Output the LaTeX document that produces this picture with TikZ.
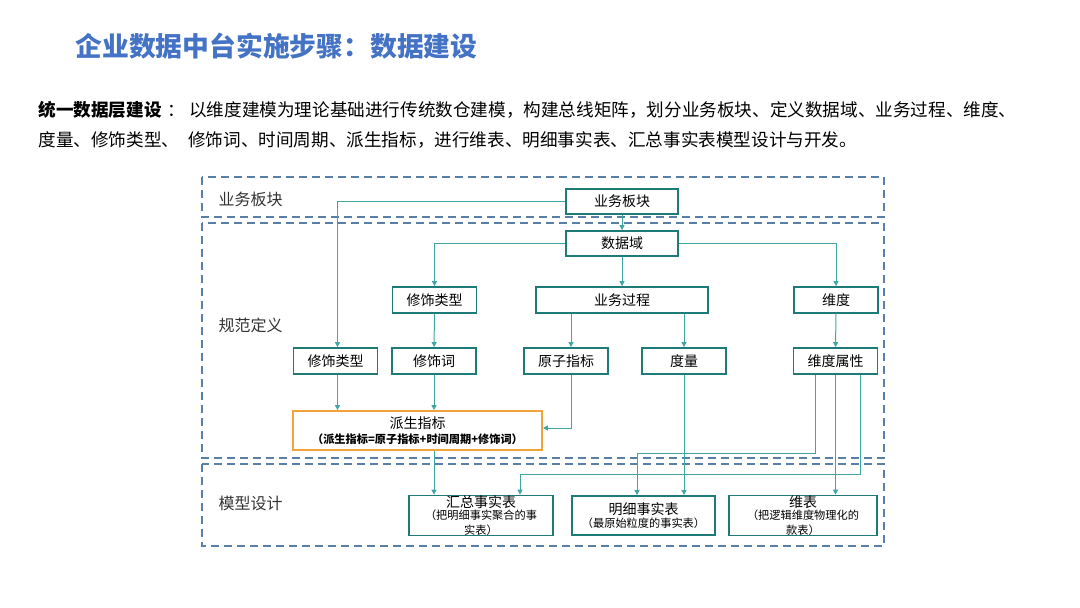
\documentclass[tikz,border=0pt]{standalone}
\usepackage{fontspec}
\setmainfont{Noto Sans CJK SC}
\usetikzlibrary{positioning,arrows.meta}

\definecolor{titleblue}{HTML}{4472C4}
\definecolor{boxteal}{HTML}{1E7B78}
\definecolor{linkteal}{HTML}{3FA6A3}
\definecolor{bandblue}{HTML}{5A7FA6}
\definecolor{keyorange}{HTML}{F2A33A}

\newcommand\boxfont{\fontsize{14}{15.5}\selectfont}
\newcommand\notefont{\fontsize{11.2}{12.5}\selectfont}

\tikzset{
  box/.style={draw=boxteal, line width=1.8pt, fill=white, inner sep=0pt,
    minimum width=84pt, minimum height=26pt, align=center, font=\boxfont},
  keybox/.style={box, draw=keyorange},
  band/.style={draw=bandblue, line width=2pt, dash pattern=on 8pt off 5pt},
  bandlabel/.style={anchor=west, font=\fontsize{16}{17}\selectfont, text=black!80},
  link/.style={draw=linkteal, line width=1pt, -{Triangle[length=5pt,width=5pt]}},
}

\begin{document}
\begin{tikzpicture}[x=1pt, y=-1pt]
  \useasboundingbox (0,0) rectangle (1080,608);

  % heading and text
  \node[anchor=west, text=titleblue, font=\fontsize{26.8}{29}\selectfont\bfseries] (title) at (72,46) {企业数据中台实施步骤：数据建设};
  \node[anchor=west, font=\fontsize{17.6}{19}\selectfont] (line1) at (35,110)
    {\textbf{统一数据层建设}\hspace{6pt}：\hspace{4pt}以维度建模为理论基础进行传统数仓建模，构建总线矩阵，划分业务板块、定义数据域、业务过程、维度、};
  \node[anchor=west, font=\fontsize{17.6}{19}\selectfont] (line2) at (35,140)
    {度量、修饰类型、\hspace{9pt}修饰词、时间周期、派生指标，进行维表、明细事实表、汇总事实表模型设计与开发。};

  % dashed bands
  \draw[band] (202,177) rectangle (884,217);
  \draw[band] (202,223) rectangle (884,458);
  \draw[band] (202,464) rectangle (884,546);
  \node[bandlabel] (lblbk) at (215,199) {业务板块};
  \node[bandlabel] (lblgf) at (215,325) {规范定义};
  \node[bandlabel] (lblmx) at (215,503) {模型设计};

  % boxes
  \node[box, minimum width=112pt, minimum height=25pt] (bankuai) at (622,201.5) {业务板块};
  \node[box, minimum width=112pt, minimum height=25pt] (shujuyu) at (622,243.5) {数据域};
  \node[box, minimum width=172pt] (guocheng) at (622,300) {业务过程};
  \node[box] (weidu) at (836,300) {维度};
  \node[box] (leixingA) at (434.5,300) {修饰类型};
  \node[box] (leixingB) at (335.5,361) {修饰类型};
  \node[box] (xiushici) at (434,361) {修饰词};
  \node[box] (yuanzi) at (566,361) {原子指标};
  \node[box] (duliang) at (684,361) {度量};
  \node[box] (shuxing) at (835.5,361) {维度属性};
  \node[keybox, minimum width=249pt, minimum height=39pt] (paisheng) at (417.5,430.5)
    {派生指标\\[-1pt]\notefont\bfseries （派生指标=原子指标+时间周期+修饰词）};
  \node[box, minimum width=144pt, minimum height=39pt] (huizong) at (481,515.5)
    {汇总事实表\\[-3pt]\notefont （把明细事实聚合的事\\[-1pt]\notefont 实表）};
  \node[box, minimum width=143pt, minimum height=39pt] (mingxi) at (643.5,515.5)
    {明细事实表\\[-3pt]\notefont （最原始粒度的事实表）};
  \node[box, minimum width=148pt, minimum height=39pt] (weibiao) at (803,515.5)
    {维表\\[-3pt]\notefont （把逻辑维度物理化的\\[-1pt]\notefont 款表）};

  % connectors
  \draw[link] (bankuai.west) -| ([xshift=2pt]leixingB.north);
  \draw[link] (bankuai) -- (shujuyu);
  \draw[link] (shujuyu.west) -| (leixingA.north);
  \draw[link] (shujuyu.east) -| (weidu.north);
  \draw[link] (shujuyu) -- (guocheng);
  \draw[link] (leixingA) -- (xiushici);
  \draw[link] ([xshift=5pt]guocheng.south -| yuanzi.north) -- ([xshift=5pt]yuanzi.north);
  \draw[link] (guocheng.south -| duliang.north) -- (duliang.north);
  \draw[link] (weidu) -- (shuxing);
  \draw[link] ([xshift=2pt]leixingB.south) -- ([xshift=2pt]leixingB.south |- paisheng.north);
  \draw[link] (xiushici.south) -- (xiushici.south |- paisheng.north);
  \draw[link] ([xshift=5pt]yuanzi.south) |- ([yshift=2.5pt]paisheng.east);
  \draw[link] (paisheng.south -| xiushici) -- (huizong.north -| xiushici);
  \draw[link] (duliang.south) -- (duliang.south |- mingxi.north);
  \draw[link] ([xshift=-20pt]shuxing.south) -- ++(0,79) -| ([xshift=-6.5pt]mingxi.north);
  \draw[link] (shuxing.south) -- (shuxing.south |- weibiao.north);
  \draw[link] ([xshift=25pt]shuxing.south) -- ++(0,100) -| ([xshift=39pt]huizong.north);
\end{tikzpicture}
\end{document}
